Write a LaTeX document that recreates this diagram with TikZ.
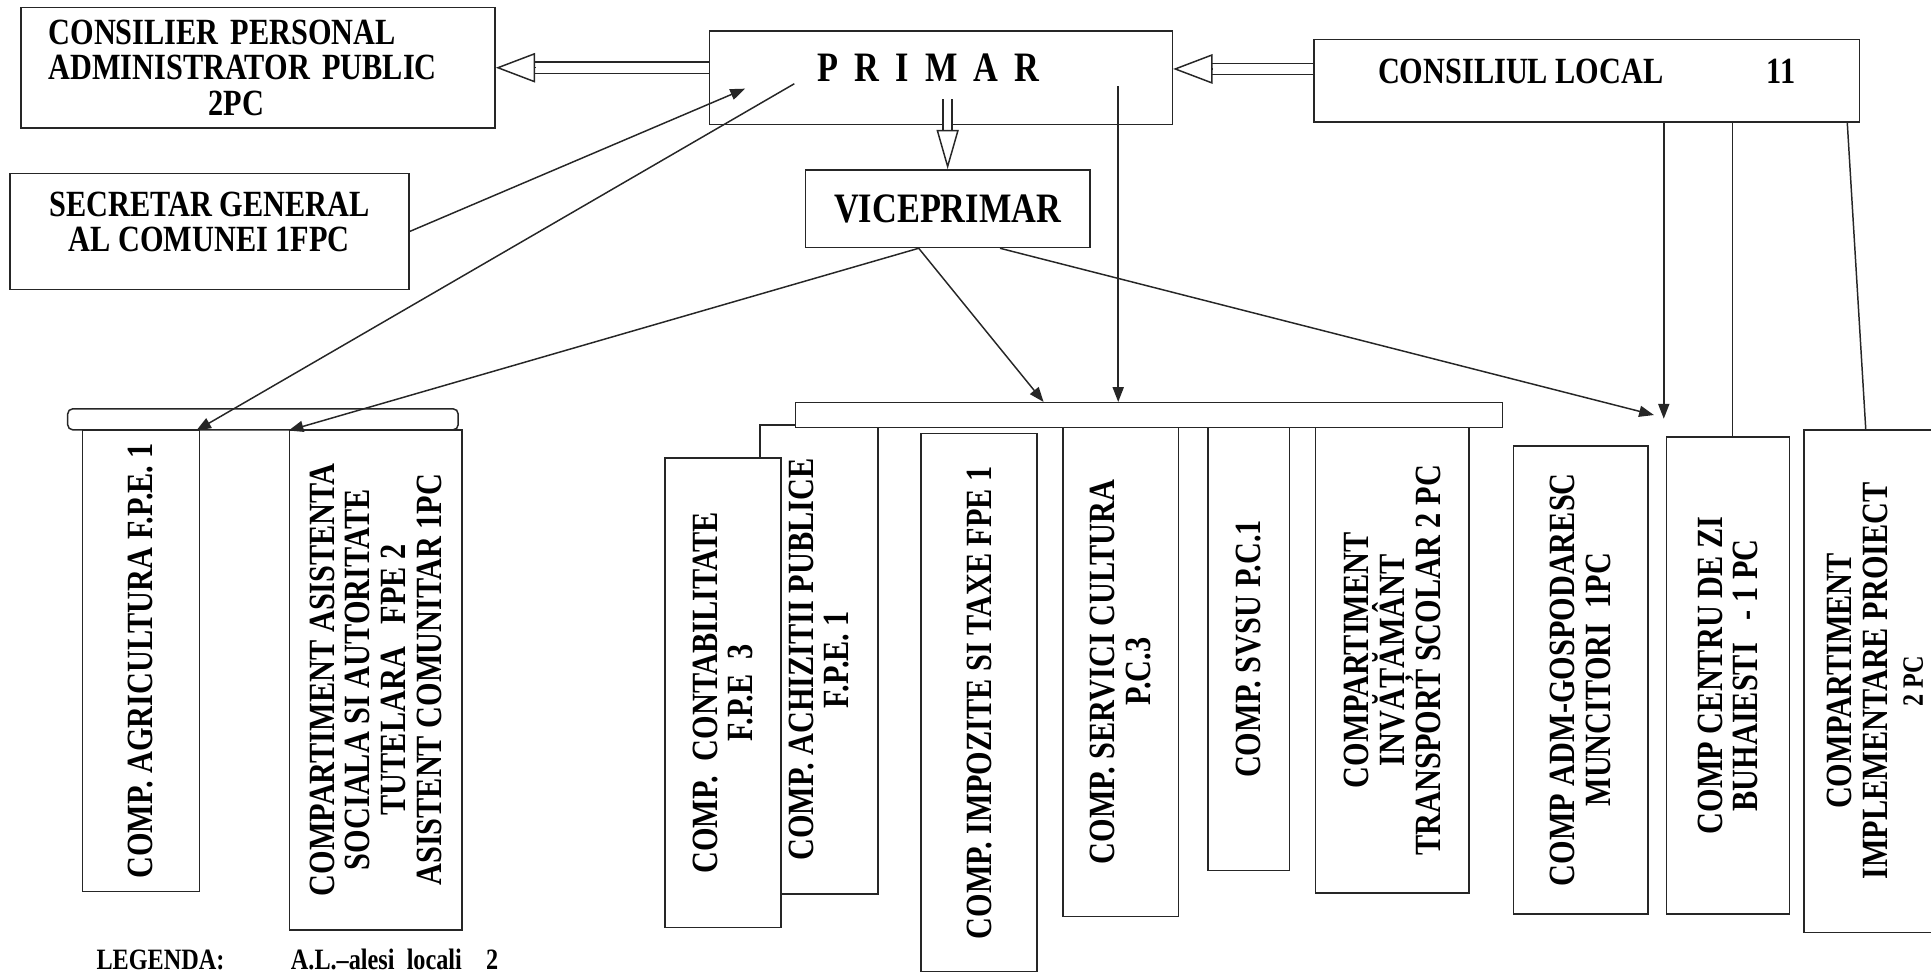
\documentclass[tikz,border=0pt]{standalone}
\usepackage{fontspec}
\setmainfont{Liberation Serif}[FakeStretch=0.82]
\usetikzlibrary{arrows.meta,calc}
\begin{document}
\begin{tikzpicture}[x=5pt,y=5pt]
	\tikzstyle{every node}+=[inner sep=0pt, font=\fontsize{15}{14.5}\selectfont\bfseries]
	\tikzstyle{box}=[draw=black!85, line width=0.6pt, fill=white, align=center]
	\tikzstyle{vbox}=[box, rotate=90]
	\tikzstyle{arr}=[black!85, line width=0.6pt, -{Triangle[length=6pt,width=4.5pt]}]
	\tikzstyle{dbl}=[black!85, line width=0.6pt, double, double distance=4pt, shorten >=15pt]
	\tikzstyle{dblhead}=[black!85, line width=0.6pt, -{Triangle[open, fill=white, length=16pt, width=12pt]}]
	\tikzstyle{ln}=[black!85, line width=0.6pt]
	\useasboundingbox (0,0) rectangle (156.8,-79.0);
	\clip (0,0) rectangle (156.8,-79.0);
	\node [box, minimum width=192.5pt, minimum height=49pt, text width=170pt, align=left] (cons) at (20.95,-5.5) {CONSILIER PERSONAL\\ADMINISTRATOR PUBLIC\\\hspace*{65pt}2PC};
	\node [box, minimum width=188pt, minimum height=38pt, text depth=8pt, font=\fontsize{17}{17}\selectfont\bfseries] (primar) at (76.4,-6.3) {{\spaceskip=6.5pt P R I M A R}\hspace*{10pt}};
	\node [box, minimum width=221.5pt, minimum height=33.5pt, text depth=7.5pt] (local) at (128.85,-6.55) {CONSILIUL LOCAL\hspace{42pt}11};
	\node [box, minimum width=115.5pt, minimum height=31.5pt, font=\fontsize{17}{17}\selectfont\bfseries] (vice) at (76.95,-16.95) {VICEPRIMAR};
	\node [box, minimum width=162pt, minimum height=47pt, text depth=8pt] (secr) at (17.0,-18.8) {SECRETAR GENERAL\\AL COMUNEI 1FPC};
	\node [box, minimum width=8.5pt, minimum height=158.5pt, rotate=90, rounded corners=2pt] (lbar) at (21.35,-34.05) {};
	\node [vbox, minimum width=187.5pt, minimum height=47.5pt] (agri) at (11.45,-53.65) {COMP. AGRICULTURA F.P.E. 1};
	\node [vbox, minimum width=203pt, minimum height=70pt] (asis) at (30.5,-55.2) {COMPARTIMENT ASISTENTA\\SOCIALA SI AUTORITATE\\TUTELARA\ \ \ FPE 2\\ASISTENT COMUNITAR 1PC};
	\node [vbox, minimum width=190.5pt, minimum height=48pt] (acz) at (66.5,-53.55) {COMP. ACHIZITII PUBLICE\\F.P.E. 1};
	\node [vbox, minimum width=190.5pt, minimum height=47pt] (cont) at (58.7,-56.25) {COMP.\ \ CONTABILITATE\\F.P.E\ \ 3};
	\node [box, minimum width=287pt, minimum height=10pt] (mbar) at (93.3,-33.7) {};
	\node [vbox, minimum width=218.5pt, minimum height=47pt] (impz) at (79.5,-57.05) {COMP. IMPOZITE SI TAXE FPE 1};
	\node [vbox, minimum width=198.5pt, minimum height=47pt] (serv) at (91.0,-54.55) {COMP. SERVICI CULTURA\\P.C.3};
	\node [vbox, minimum width=180pt, minimum height=33pt] (svsu) at (101.4,-52.7) {COMP. SVSU P.C.1};
	\node [vbox, minimum width=189pt, minimum height=62.5pt] (inva) at (113.05,-53.6) {COMPARTIMENT\\INVĂȚĂMÂNT\\TRANSPORT SCOLAR 2 PC};
	\node [vbox, minimum width=190pt, minimum height=54.5pt] (adm) at (128.35,-55.2) {COMP ADM-GOSPODARESC\\MUNCITORI\ \ 1PC};
	\node [vbox, minimum width=193.5pt, minimum height=50pt] (cent) at (140.3,-54.85) {COMP CENTRU DE ZI\\BUHAIESTI\ \ \ - 1 PC};
	\node [vbox, minimum width=204pt, minimum height=57.5pt] (impl) at (152.25,-55.3) {COMPARTIMENT\\IMPLEMENTARE PROIECT\\{\fontsize{12}{14}\selectfont 2 PC}};
	\node [anchor=base west, font=\fontsize{12}{13}\selectfont\bfseries] (leg) at (7.8,-78.7) {LEGENDA:\hspace{27pt}A.L.--alesi\ \ locali\ \ \ \ 2};
	\coordinate (p1) at (60.5,-7.2);
	\coordinate (p2) at (64.5,-6.8);
	\coordinate (p3) at (90.8,-7.0);
	\coordinate (q1) at (134.3,-33.7);
	\coordinate (q2) at (135.1,-34.0);
	\coordinate (d1s) at ([yshift=4pt]primar.west);
	\coordinate (d1e) at (d1s -| cons.east);
	\coordinate (d2s) at ([yshift=4.75pt]local.west);
	\coordinate (d2e) at (d2s -| primar.east);
	\coordinate (d3s) at ([yshift=10.5pt]vice.north |- primar.south);
	\draw [dbl] (d1s) -- (d1e);
	\draw [dblhead] ($(d1e)!16pt!(d1s)$) -- (d1e);
	\draw [dbl] (d2s) -- (d2e);
	\draw [dblhead] ($(d2e)!16pt!(d2s)$) -- (d2e);
	\draw [dbl, double distance=3pt] (d3s) -- (vice.north);
	\draw [dblhead, -{Triangle[open, fill=white, length=16pt, width=9pt]}] ($(vice.north)!16pt!(d3s)$) -- (vice.north);
	\draw [arr] (secr.east) -- (p1);
	\draw [arr] (p2) -- ([xshift=52.5pt]lbar.north west);
	\draw [arr] ([xshift=-11.75pt]vice.south) -- ([xshift=90pt]lbar.north west);
	\draw [arr] ([xshift=-11.75pt]vice.south) -- ([xshift=101pt]mbar.north west);
	\draw [arr] (p3) -- (p3 |- mbar.north);
	\draw [arr] ([xshift=21.25pt]vice.south) -- (q1);
	\draw [arr] ([xshift=31.25pt]local.south) -- (q2);
	\draw [ln] ([xshift=59.25pt]local.south) -- ([xshift=59.25pt]local.south |- cent.east);
	\draw [ln] ([xshift=105.75pt]local.south) -- ([xshift=-3.75pt]impl.east);
\end{tikzpicture}
\end{document}
